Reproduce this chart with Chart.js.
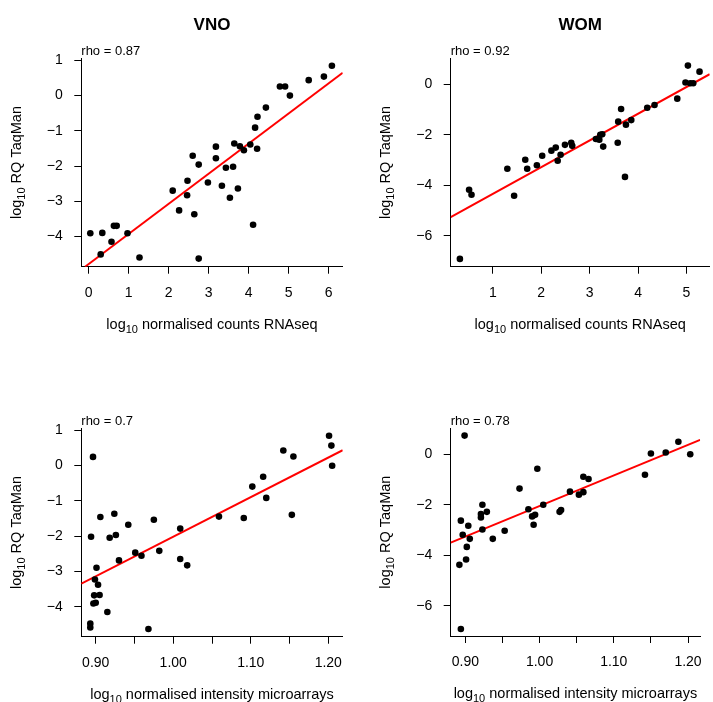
<!DOCTYPE html>
<html>
<head>
<meta charset="utf-8">
<title>TaqMan vs RNAseq / microarrays</title>
<script src="https://cdn.jsdelivr.net/npm/chart.js@4.4.1/dist/chart.umd.min.js"></script>
<style>
  html, body { margin: 0; padding: 0; background: #fff; }
  #wrap { position: relative; width: 713px; height: 702px; }
  #wrap canvas { position: absolute; }
</style>
</head>
<body>
<div id="wrap">
  <canvas id="vnoSeq" width="356" height="351" style="left:0;top:0"></canvas>
  <canvas id="womSeq" width="357" height="351" style="left:356px;top:0"></canvas>
  <canvas id="vnoArr" width="356" height="351" style="left:0;top:351px"></canvas>
  <canvas id="womArr" width="357" height="351" style="left:356px;top:351px"></canvas>
</div>
<script>
// VNO: RNAseq counts vs TaqMan RQ (both log10)
const vnoSeqX = [0.04, 0.34, 0.30, 0.57, 0.63, 0.70, 0.97, 1.27, 2.10, 2.26, 2.47, 2.46, 2.60, 2.64,
  2.75, 2.75, 2.98, 3.18, 3.18, 3.33, 3.43, 3.53, 3.61, 3.64, 3.73, 3.78, 3.88, 4.04, 4.11, 4.16,
  4.21, 4.22, 4.43, 4.78, 4.91, 5.03, 5.50, 5.88, 6.08];
const vnoSeqY = [-3.91, -3.90, -4.51, -4.15, -3.70, -3.70, -3.91, -4.60, -2.70, -3.26, -2.42, -2.83, -1.71, -3.37,
  -1.96, -4.63, -2.47, -1.45, -1.78, -2.56, -2.05, -2.90, -2.02, -1.36, -2.64, -1.44, -1.55, -1.39, -3.67, -0.91,
  -1.51, -0.60, -0.34, 0.26, 0.26, 0.00, 0.44, 0.54, 0.85];

// WOM: RNAseq counts vs TaqMan RQ
const womSeqX = [0.32, 0.51, 0.56, 1.30, 1.44, 1.67, 1.71, 1.91, 2.02, 2.21, 2.30, 2.34, 2.40, 2.49,
  2.62, 2.64, 3.13, 3.20, 3.22, 3.26, 3.28, 3.58, 3.59, 3.65, 3.73, 3.75, 3.86, 4.19, 4.34, 4.81,
  4.98, 5.03, 5.08, 5.14, 5.27];
const womSeqY = [-6.92, -4.18, -4.38, -3.35, -4.42, -2.99, -3.35, -3.21, -2.83, -2.63, -2.51, -3.03, -2.79, -2.40,
  -2.32, -2.44, -2.17, -2.20, -2.00, -1.98, -2.47, -2.32, -1.48, -0.98, -3.67, -1.60, -1.42, -0.93, -0.82, -0.57,
  0.07, 0.74, 0.04, 0.04, 0.50];

// VNO: microarray intensity vs TaqMan RQ
const vnoArrX = [0.8965, 0.894, 0.906, 0.924, 0.942, 0.918, 0.926, 0.975, 1.009, 0.930, 0.951, 0.959, 0.982,
  1.009, 1.018, 0.901, 0.899, 0.903, 0.898, 0.905, 0.897, 0.900, 0.915, 0.893, 0.893, 0.968,
  1.059, 1.091, 1.102, 1.116, 1.120, 1.142, 1.153, 1.155, 1.201, 1.204, 1.205];
const vnoArrY = [0.24, -2.02, -1.46, -1.37, -1.68, -2.05, -1.97, -1.54, -1.79, -2.69, -2.47, -2.56, -2.42,
  -2.65, -2.83, -2.90, -3.23, -3.38, -3.68, -3.67, -3.91, -3.89, -4.15, -4.48, -4.59, -4.63,
  -1.45, -1.49, -0.60, -0.32, -0.92, 0.42, -1.40, 0.25, 0.84, 0.56, -0.01];

// WOM: microarray intensity vs TaqMan RQ
const womArrX = [0.894, 0.892, 0.894, 0.8965, 0.899, 0.901, 0.902, 0.904, 0.906, 0.921, 0.921, 0.923, 0.923,
  0.929, 0.937, 0.953, 0.973, 0.985, 0.990, 0.992, 0.994, 0.997, 1.005, 1.027, 1.029, 1.041,
  1.053, 1.059, 1.059, 1.066, 1.142, 1.150, 1.170, 1.187, 1.203];
const womArrY = [-2.63, -4.38, -6.92, -3.19, 0.74, -4.17, -3.67, -2.83, -3.35, -2.37, -2.50, -2.00, -2.98,
  -2.28, -3.35, -3.03, -1.36, -2.18, -2.46, -2.79, -2.40, -0.57, -2.00, -2.28, -2.21, -1.48,
  -1.60, -1.50, -0.89, -0.98, -0.81, 0.03, 0.07, 0.50, 0.00];

// fitted lines (end points at the plot edges)
const vnoSeqFitX = [-0.09, 6.35], vnoSeqFitY = [-4.86, 0.65];
const womSeqFitX = [0.13, 5.48], womSeqFitY = [-5.27, 0.40];
const vnoArrFitX = [0.8814, 1.2186], vnoArrFitY = [-3.35, 0.43];
const womArrFitX = [0.8803, 1.2163], womArrFitY = [-3.50, 0.57];

// axis ticks
const vnoSeqTicks = [0, 1, 2, 3, 4, 5, 6];
const womSeqTicks = [1, 2, 3, 4, 5];
const arrTicks = [0.90, 0.95, 1.00, 1.05, 1.10, 1.15, 1.20];
const arrTickLabels = ['0.90', '', '1.00', '', '1.10', '', '1.20'];
const vnoYTicks = [-4, -3, -2, -1, 0, 1];
const womYTicks = [-6, -4, -2, 0];

const FONT = '"Liberation Sans", Arial, Helvetica, sans-serif';

function minus(v) {
  return v < 0 ? '\u2212' + Math.abs(v) : String(v);
}

// "log10 ..." with the 10 as subscript, centred on cx
function logLabel(ctx, rest, cx, y) {
  const big = '14.5px ' + FONT, small = '11px ' + FONT;
  ctx.font = big;
  const w1 = ctx.measureText('log').width;
  const w3 = ctx.measureText(' ' + rest).width;
  ctx.font = small;
  const w2 = ctx.measureText('10').width;
  let x = cx - (w1 + w2 + w3) / 2;
  ctx.textAlign = 'left';
  ctx.textBaseline = 'alphabetic';
  ctx.font = big;
  ctx.fillText('log', x, y);
  x += w1;
  ctx.font = small;
  ctx.fillText('10', x, y + 4);
  x += w2;
  ctx.font = big;
  ctx.fillText(' ' + rest, x, y);
}

const panelText = {
  id: 'panelText',
  afterDraw(chart, args, opts) {
    const ctx = chart.ctx, a = chart.chartArea;
    ctx.save();
    ctx.fillStyle = '#000';
    if (opts.title) {
      ctx.font = 'bold 17px ' + FONT;
      ctx.textAlign = 'center';
      ctx.textBaseline = 'alphabetic';
      ctx.fillText(opts.title, (a.left + a.right) / 2, 30);
    }
    ctx.font = '13px ' + FONT;
    ctx.textAlign = 'left';
    ctx.textBaseline = 'alphabetic';
    ctx.fillText(opts.rho, a.left, a.top - 3);
    logLabel(ctx, opts.xLabel, (a.left + a.right) / 2, a.bottom + 62);
    ctx.translate(a.left - 60.5, (a.top + a.bottom) / 2);
    ctx.rotate(-Math.PI / 2);
    logLabel(ctx, opts.yLabel, 0, 0);
    ctx.restore();
  }
};

function pairs(xs, ys) {
  return xs.map((v, i) => ({ x: v, y: ys[i] }));
}

function scatterPanel(id, p) {
  const axisCommon = {
    type: 'linear',
    grid: { drawOnChartArea: false, drawTicks: true, tickLength: 7, color: '#000', lineWidth: 1 },
    border: { display: true, color: '#000', width: 1 }
  };
  return new Chart(document.getElementById(id), {
    type: 'scatter',
    data: {
      datasets: [{
        data: pairs(p.x, p.y),
        backgroundColor: '#000',
        borderColor: '#000',
        borderWidth: 0,
        pointRadius: 3.3,
        pointHoverRadius: 3.3
      }, {
        data: pairs(p.fitX, p.fitY),
        showLine: true,
        borderColor: '#ff0000',
        borderWidth: 2,
        pointRadius: 0,
        fill: false
      }]
    },
    options: {
      responsive: false,
      animation: false,
      events: [],
      layout: { padding: { top: p.top, right: p.right, left: 0, bottom: 0 } },
      plugins: {
        legend: { display: false },
        tooltip: { enabled: false },
        panelText: { title: p.title, rho: p.rho, xLabel: p.xLabel, yLabel: 'RQ TaqMan' }
      },
      scales: {
        x: Object.assign({}, axisCommon, {
          min: p.xMin, max: p.xMax,
          afterBuildTicks: s => { s.ticks = p.xTicks.map(v => ({ value: v })); },
          afterFit: s => { s.height = p.xHeight; },
          ticks: {
            autoSkip: false, maxRotation: 0, padding: 11.2, color: '#000',
            font: { family: FONT, size: 14 },
            callback: (v, i) => p.xTickLabels ? p.xTickLabels[i] : String(v)
          }
        }),
        y: Object.assign({}, axisCommon, {
          min: p.yMin, max: p.yMax,
          afterBuildTicks: s => { s.ticks = p.yTicks.map(v => ({ value: v })); },
          afterFit: s => { s.width = p.yWidth; },
          ticks: {
            autoSkip: false, padding: 11.5, color: '#000',
            font: { family: FONT, size: 14 },
            callback: v => minus(v)
          }
        })
      }
    },
    plugins: [panelText]
  });
}

scatterPanel('vnoSeq', {
  title: 'VNO', rho: 'rho = 0.87', xLabel: 'normalised counts RNAseq',
  x: vnoSeqX, y: vnoSeqY, fitX: vnoSeqFitX, fitY: vnoSeqFitY,
  xMin: -0.185, xMax: 6.35, yMin: -4.86, yMax: 1.06,
  xTicks: vnoSeqTicks, yTicks: vnoYTicks,
  top: 58.3, right: 13.3, yWidth: 81.3, xHeight: 84.3
});

scatterPanel('womSeq', {
  title: 'WOM', rho: 'rho = 0.92', xLabel: 'normalised counts RNAseq',
  x: womSeqX, y: womSeqY, fitX: womSeqFitX, fitY: womSeqFitY,
  xMin: 0.13, xMax: 5.48, yMin: -7.23, yMax: 1.03,
  xTicks: womSeqTicks, yTicks: womYTicks,
  top: 58.3, right: 1, yWidth: 94.7, xHeight: 84.3
});

scatterPanel('vnoArr', {
  rho: 'rho = 0.7', xLabel: 'normalised intensity microarrays',
  x: vnoArrX, y: vnoArrY, fitX: vnoArrFitX, fitY: vnoArrFitY,
  xMin: 0.8814, xMax: 1.2186, yMin: -4.85, yMax: 1.05,
  xTicks: arrTicks, xTickLabels: arrTickLabels, yTicks: vnoYTicks,
  top: 77.3, right: 13.3, yWidth: 81.3, xHeight: 65.3
});

scatterPanel('womArr', {
  rho: 'rho = 0.78', xLabel: 'normalised intensity microarrays',
  x: womArrX, y: womArrY, fitX: womArrFitX, fitY: womArrFitY,
  xMin: 0.8803, xMax: 1.2163, yMin: -7.2, yMax: 1.03,
  xTicks: arrTicks, xTickLabels: arrTickLabels, yTicks: womYTicks,
  top: 77.3, right: 1, yWidth: 94.7, xHeight: 66
});
</script>
</body>
</html>
